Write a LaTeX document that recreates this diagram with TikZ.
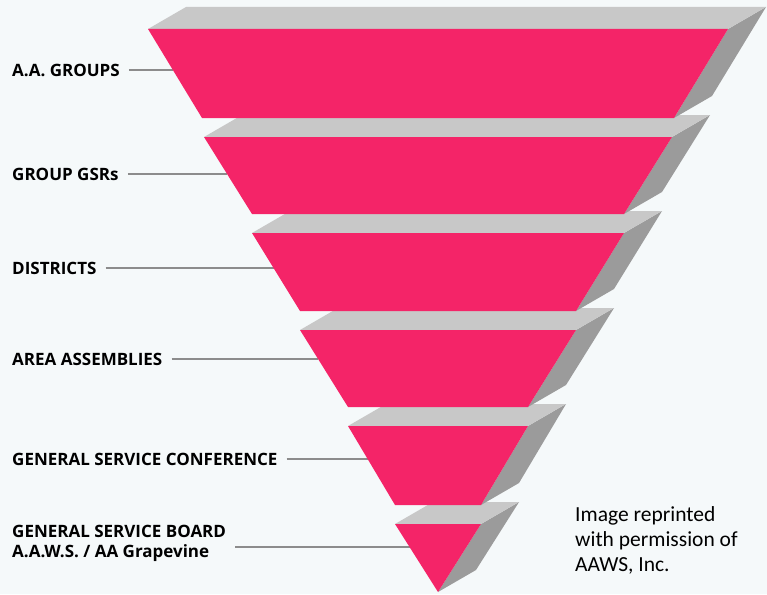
\documentclass[tikz,border=0pt]{standalone}
\usepackage{fontspec}
\setmainfont{Open Sans}
\newfontfamily\creditfont{Carlito}
\definecolor{slabpink}{RGB}{244,36,104}
\definecolor{slabtop}{RGB}{200,200,200}
\definecolor{slabside}{RGB}{155,155,155}
\definecolor{leadergrey}{RGB}{140,140,140}
\definecolor{paper}{RGB}{245,249,250}

\begin{document}
\begin{tikzpicture}[x=1pt,y=-1pt,
  pinkface/.style={fill=slabpink},
  topface/.style={fill=slabtop},
  sideface/.style={fill=slabside},
  tag/.style={anchor=west, inner sep=0pt, font=\fontsize{17}{20}\selectfont\bfseries},
  leader/.style={draw=leadergrey, line width=1.1pt, shorten <=9pt}]
\fill[paper] (0,0) rectangle (767,594);
\useasboundingbox (0,0) rectangle (767,594);

% labels on the left
\node[tag] (groups) at (12,70) {A.A. GROUPS};
\node[tag] (gsrs) at (12,174) {GROUP GSRs};
\node[tag] (districts) at (12,268) {DISTRICTS};
\node[tag] (assemblies) at (12,359) {AREA ASSEMBLIES};
\node[tag] (conference) at (12,459) {GENERAL SERVICE CONFERENCE};
\node[tag, align=left] (board) at (12,543) {GENERAL SERVICE BOARD\\A.A.W.S. / AA Grapevine};

% where the leaders meet the slabs
\coordinate (groupsend) at (173,70);
\coordinate (gsrsend) at (227,174);
\coordinate (districtsend) at (274,268);
\coordinate (assembliesend) at (318,359);
\coordinate (conferenceend) at (368,459);
\coordinate (boardend) at (410,547);

\draw[leader] (groups) -- (groupsend);
\draw[leader] (gsrs) -- (gsrsend);
\draw[leader] (districts) -- (districtsend);
\draw[leader] (assemblies) -- (assembliesend);
\draw[leader] (conference) -- (conferenceend);
\draw[leader] ([yshift=-4pt]board.east) -- (boardend);

% the slabs, bottom one first
\foreach \yt/\yb/\wt/\wb in {524/592/43/0, 426/505/90/43, 330/407/138/90,
    233/311/186/138, 137/214/234/186, 29/118/290/236}{
  \fill[sideface] (438+\wt,\yt) -- (438+\wb,\yb) -- (476+\wb,\yb-22) -- (476+\wt,\yt-22) -- cycle;
  \fill[topface] (438-\wt,\yt) -- (438+\wt,\yt) -- (476+\wt,\yt-22) -- (476-\wt,\yt-22) -- cycle;
  \fill[pinkface] (438-\wt,\yt) -- (438+\wt,\yt) -- (438+\wb,\yb) -- (438-\wb,\yb) -- cycle;
}

\node[anchor=north west, inner sep=0pt, align=left,
  font=\creditfont\fontsize{21.5}{25}\selectfont] (credit) at (575,506)
  {Image reprinted\\with permission of\\AAWS, Inc.};
\end{tikzpicture}
\end{document}
